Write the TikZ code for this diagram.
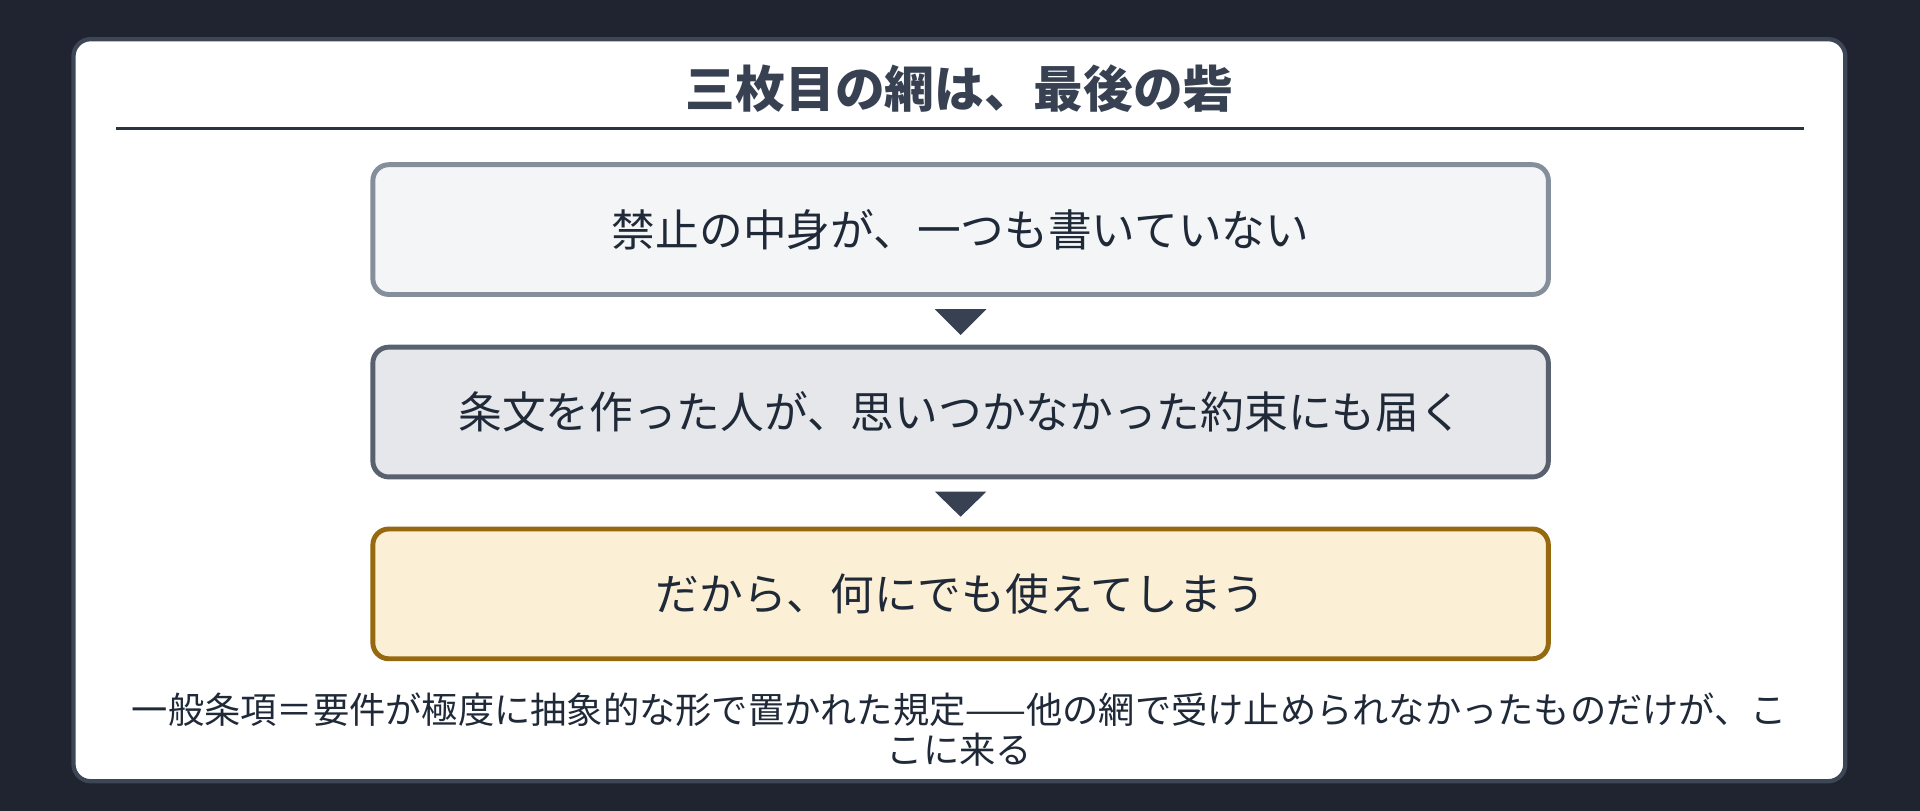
\documentclass[tikz,border=0pt]{standalone}
\usepackage{fontspec}
\setmainfont{Noto Sans CJK JP}
\newfontfamily\cjk{Noto Sans CJK JP}
\usetikzlibrary{calc}
\definecolor{bgc}{HTML}{1F2430}
\definecolor{cardborder}{HTML}{3D4655}
\definecolor{titlec}{HTML}{374151}
\definecolor{rulec}{HTML}{2B3340}
\definecolor{txtc}{HTML}{1F2937}
\definecolor{aonefill}{HTML}{F4F5F7}
\definecolor{aoneline}{HTML}{858E9B}
\definecolor{atwofill}{HTML}{E5E7EB}
\definecolor{atwoline}{HTML}{59616F}
\definecolor{athreefill}{HTML}{FBF0D6}
\definecolor{athreeline}{HTML}{96680F}
\definecolor{tric}{HTML}{374151}
\tikzset{
  stepbox/.style={rounded corners=13bp, line width=4bp, minimum width=960bp, minimum height=106bp,
    inner sep=0pt, text=txtc, font=\cjk\fontsize{35.7bp}{40bp}\selectfont},
  tri/.style={fill=tric},
}
\begin{document}
\begin{tikzpicture}[x=1bp,y=-1bp]
\useasboundingbox (0,0) rectangle (1568,662);
\fill[bgc] (0,0) rectangle (1568,662);
\draw[cardborder, line width=3.5bp, fill=white, rounded corners=14bp] (60,32) rectangle (1507,638);
\node[font=\cjk\bfseries\fontsize{40.6bp}{44bp}\selectfont, text=titlec] (title) at (783.5,72) {三枚目の網は、最後の砦};
\coordinate (rl) at (95,105);
\coordinate (rr) at (1473,105);
\draw[rulec, line width=2bp] (rl) -- (rr);
\node[stepbox, fill=aonefill, draw=aoneline] (b1) at (784.5,187.5) {禁止の中身が、一つも書いていない};
\node[stepbox, fill=atwofill, draw=atwoline] (b2) at (784.5,336.5) {条文を作った人が、思いつかなかった約束にも届く};
\node[stepbox, fill=athreefill, draw=athreeline] (b3) at (784.5,485) {だから、何にでも使えてしまう};
\fill[tri] ($(b1.south)+(-21,10)$) -- ($(b1.south)+(21,10)$) -- ($(b2.north)+(0,-8)$) -- cycle;
\fill[tri] ($(b2.south)+(-21,10)$) -- ($(b2.south)+(21,10)$) -- ($(b3.north)+(0,-8)$) -- cycle;
\node[align=center, text=txtc, font=\cjk\fontsize{29.6bp}{33bp}\selectfont, inner sep=0pt] (cap) at (783.5,596)
  {一般条項＝要件が極度に抽象的な形で置かれた規定——他の網で受け止められなかったものだけが、こ\\こに来る};
\end{tikzpicture}
\end{document}
